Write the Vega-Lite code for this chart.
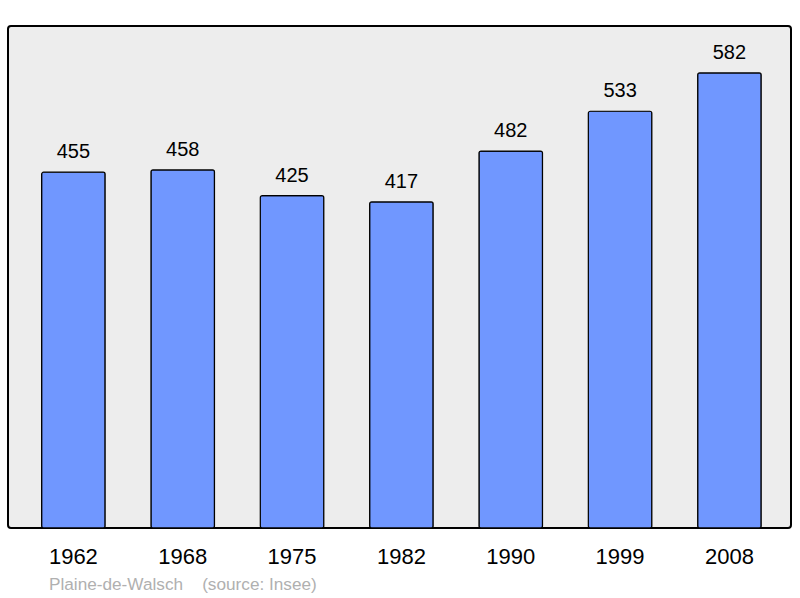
{
  "$schema": "https://vega.github.io/schema/vega-lite/v6.json",
  "width": 783,
  "height": 502,
  "autosize": {"type": "none"},
  "padding": {"left": 8, "top": 26, "right": 9, "bottom": 70},
  "background": "#ffffff",
  "config": {
    "font": "Liberation Sans",
    "view": {"fill": "#ededed", "stroke": "#000000", "strokeWidth": 2, "cornerRadius": 3}
  },
  "title": {
    "text": "Plaine-de-Walsch\u00a0\u00a0\u00a0\u00a0(source: Insee)",
    "orient": "bottom",
    "anchor": "start",
    "dx": 41,
    "offset": 9,
    "font": "Liberation Sans",
    "fontSize": 17.2,
    "fontWeight": "normal",
    "color": "#b0b0b0"
  },
  "data": {
    "values": [
      {"year": "1962", "population": 455},
      {"year": "1968", "population": 458},
      {"year": "1975", "population": 425},
      {"year": "1982", "population": 417},
      {"year": "1990", "population": 482},
      {"year": "1999", "population": 533},
      {"year": "2008", "population": 582}
    ]
  },
  "encoding": {
    "x": {
      "field": "year",
      "type": "ordinal",
      "sort": null,
      "scale": {"paddingInner": 0.419, "paddingOuter": 0.29, "align": 0.53},
      "axis": {
        "title": null,
        "labelAngle": 0,
        "labelFontSize": 22,
        "labelColor": "#000000",
        "labelPadding": 18,
        "domain": false,
        "ticks": false,
        "grid": false
      }
    },
    "y": {
      "field": "population",
      "type": "quantitative",
      "scale": {"domain": [0, 642], "nice": false},
      "axis": null
    }
  },
  "layer": [
    {
      "mark": {"type": "bar", "color": "#7097ff", "stroke": "#000000", "strokeWidth": 1.2, "cornerRadius": 2}
    },
    {
      "mark": {"type": "text", "baseline": "alphabetic", "dy": -14, "fontSize": 20, "color": "#000000"},
      "encoding": {"text": {"field": "population", "type": "quantitative"}}
    }
  ]
}
